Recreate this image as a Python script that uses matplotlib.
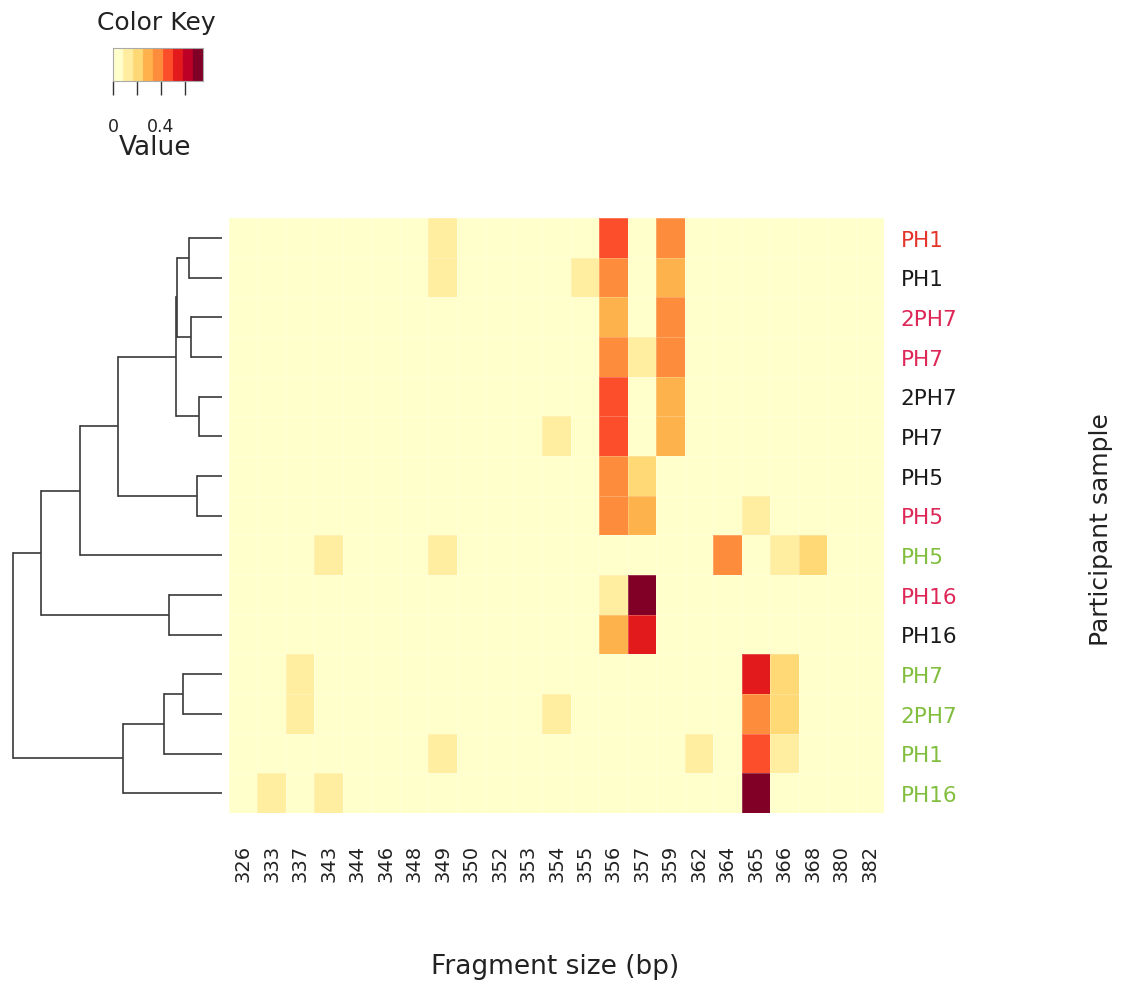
import numpy as np
import matplotlib
matplotlib.use("Agg")
import matplotlib.pyplot as plt
from matplotlib.colors import ListedColormap, BoundaryNorm

# ---------------- data ----------------
col_labels = ["326", "333", "337", "343", "344", "346", "348", "349", "350", "352",
              "353", "354", "355", "356", "357", "359", "362", "364", "365", "366",
              "368", "380", "382"]
row_labels = ["PH1", "PH1", "2PH7", "PH7", "2PH7", "PH7", "PH5", "PH5", "PH5",
              "PH16", "PH16", "PH7", "2PH7", "PH1", "PH16"]
row_colors = ["#E3352B", "#1a1a1a", "#DD2757", "#DD2757", "#1a1a1a", "#1a1a1a",
              "#1a1a1a", "#DD2757", "#82BE3E", "#DD2757", "#1a1a1a", "#82BE3E",
              "#82BE3E", "#82BE3E", "#82BE3E"]

# non-zero cells per row: {column label: value}
row_values = [
    {"349": 0.12, "356": 0.46, "359": 0.37},
    {"349": 0.12, "355": 0.12, "356": 0.37, "359": 0.29},
    {"356": 0.29, "359": 0.37},
    {"356": 0.37, "357": 0.12, "359": 0.37},
    {"356": 0.46, "359": 0.29},
    {"354": 0.12, "356": 0.46, "359": 0.29},
    {"356": 0.37, "357": 0.20},
    {"356": 0.37, "357": 0.29, "365": 0.12},
    {"343": 0.12, "349": 0.12, "364": 0.37, "366": 0.12, "368": 0.20},
    {"356": 0.12, "357": 0.72},
    {"356": 0.29, "357": 0.54},
    {"337": 0.12, "365": 0.54, "366": 0.20},
    {"337": 0.12, "354": 0.12, "365": 0.37, "366": 0.20},
    {"349": 0.12, "362": 0.12, "365": 0.46, "366": 0.12},
    {"333": 0.12, "343": 0.12, "365": 0.72},
]

# dendrogram merges (rows in displayed order 0..14; new nodes numbered from 15)
merges = [
    (4, 5, 0.110),    # 15
    (6, 7, 0.120),    # 16
    (2, 3, 0.148),    # 17
    (0, 1, 0.158),    # 18
    (11, 12, 0.187),  # 19
    (18, 17, 0.217),  # 20
    (20, 15, 0.222),  # 21
    (9, 10, 0.254),   # 22
    (19, 13, 0.278),  # 23
    (23, 14, 0.474),  # 24
    (21, 16, 0.498),  # 25
    (25, 8, 0.679),   # 26
    (26, 22, 0.866),  # 27
    (27, 24, 1.000),  # 28
]

key_breaks_max = 0.75
key_ticks = [0, 0.2, 0.4, 0.6]
key_tick_labels = ["0", "", "0.4", ""]

palette = ["#FFFFCC", "#FFEDA0", "#FED976", "#FEB24C", "#FD8D3C",
           "#FC4E2A", "#E31A1C", "#BD0026", "#800026"]

# ---------------- build ----------------
M = np.zeros((len(row_labels), len(col_labels)))
for r, d in enumerate(row_values):
    for c, v in d.items():
        M[r, col_labels.index(c)] = v

cmap = ListedColormap(palette)
bounds = np.linspace(0, key_breaks_max, len(palette) + 1)
norm = BoundaryNorm(bounds, cmap.N)

W, H = 1126, 987
fig = plt.figure(figsize=(W / 100, H / 100), dpi=100)
fig.patch.set_facecolor("white")


def ax_px(l, t, r, b):
    return fig.add_axes([l / W, 1 - b / H, (r - l) / W, (b - t) / H])


# heatmap
ax = ax_px(229, 219, 884, 814)
ax.pcolormesh(np.arange(len(col_labels) + 1), np.arange(len(row_labels) + 1), M,
              cmap=cmap, norm=norm, edgecolors=(1, 1, 1, 0.22), linewidth=0.6)
ax.set_xlim(0, len(col_labels))
ax.set_ylim(len(row_labels), 0)
for s in ax.spines.values():
    s.set_visible(False)
ax.set_xticks(np.arange(len(col_labels)) + 0.5)
ax.set_xticklabels(col_labels, rotation=90, fontsize=14, va="top")
ax.tick_params(axis="x", length=0, pad=22)
ax.set_yticks(np.arange(len(row_labels)) + 0.5)
ax.set_yticklabels(row_labels, fontsize=15.5)
ax.yaxis.tick_right()
ax.tick_params(axis="y", length=0, pad=12)
for lab, col in zip(ax.get_yticklabels(), row_colors):
    lab.set_color(col)
for lab in ax.get_xticklabels():
    lab.set_color("#222222")

fig.text(555 / W, 1 - 967 / H, "Fragment size (bp)", ha="center", va="center",
         fontsize=19, color="#222222")
fig.text(1101 / W, 1 - 530 / H, "Participant sample", ha="center", va="center",
         rotation=90, fontsize=18, color="#222222")

# dendrogram
dax = ax_px(13, 219, 222, 814)
dax.set_xlim(1.0, 0)
dax.set_ylim(len(row_labels), 0)
dax.axis("off")
n = len(row_labels)
pos = {i: i + 0.5 for i in range(n)}
hgt = {i: 0.0 for i in range(n)}
for k, (a, b, h) in enumerate(merges):
    node = n + k
    for child in (a, b):
        dax.plot([hgt[child], h], [pos[child], pos[child]], color="#3a3a3a",
                 lw=1.2, clip_on=False, solid_capstyle="butt")
    dax.plot([h, h], [pos[a], pos[b]], color="#3a3a3a", lw=1.2, clip_on=False,
             solid_capstyle="projecting")
    pos[node] = (pos[a] + pos[b]) / 2
    hgt[node] = h

# colour key
kax = ax_px(113, 49, 203, 82)
kax.imshow(np.linspace(0, key_breaks_max, 300)[None, :], aspect="auto", cmap=cmap,
           norm=norm, extent=[0, key_breaks_max, 0, 1])
kax.set_xlim(0, key_breaks_max)
kax.set_yticks([])
kax.set_xticks(key_ticks)
kax.set_xticklabels(key_tick_labels, fontsize=12.5, color="#222222")
kax.tick_params(axis="x", length=10, width=1, color="#333333", pad=16)
for s in kax.spines.values():
    s.set_color("#aaaaaa")
    s.set_linewidth(0.8)
fig.text(156 / W, 1 - 23 / H, "Color Key", ha="center", va="center",
         fontsize=18, color="#222222")
fig.text(155 / W, 1 - 148 / H, "Value", ha="center", va="center",
         fontsize=19, color="#222222")

fig.savefig("out.png", dpi=100, facecolor="white")
